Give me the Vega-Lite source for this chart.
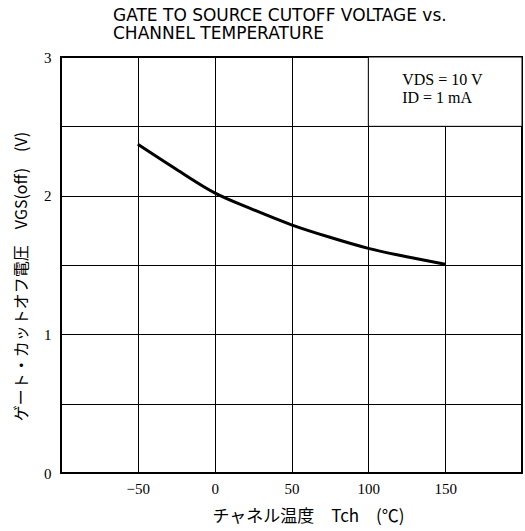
{
  "$schema": "https://vega.github.io/schema/vega-lite/v6.json",
  "width": 461,
  "height": 416,
  "autosize": {"type": "none"},
  "padding": {"left": 61, "top": 57, "right": 3, "bottom": 58},
  "background": "white",
  "title": {
    "text": ["GATE TO SOURCE CUTOFF VOLTAGE vs.", "CHANNEL TEMPERATURE"],
    "anchor": "start",
    "frame": "group",
    "dx": 52,
    "offset": 7,
    "font": "DejaVu Sans",
    "fontSize": 17,
    "fontWeight": "normal",
    "color": "black",
    "lineHeight": 18
  },
  "config": {
    "view": {"stroke": "black", "strokeWidth": 2},
    "axis": {
      "grid": true,
      "gridColor": "black",
      "gridWidth": 1,
      "gridOpacity": 1,
      "domain": false,
      "ticks": false,
      "labelFont": "Liberation Serif",
      "labelFontSize": 15,
      "labelColor": "black",
      "titleFont": "Noto Sans CJK JP",
      "titleFontSize": 14,
      "titleFontWeight": "normal",
      "titleColor": "black"
    }
  },
  "datasets": {
    "curve": [
      {"t": -50, "v": 2.37},
      {"t": -25, "v": 2.19},
      {"t": 0, "v": 2.02},
      {"t": 25, "v": 1.9},
      {"t": 50, "v": 1.79},
      {"t": 75, "v": 1.7},
      {"t": 100, "v": 1.62},
      {"t": 125, "v": 1.56},
      {"t": 150, "v": 1.505}
    ],
    "box": [
      {"t1": 100, "t2": 200, "v1": 2.5, "v2": 3}
    ],
    "notes": [
      {"t": 122, "v": 2.835, "label": "VDS = 10  V"},
      {"t": 122, "v": 2.705, "label": "ID = 1  mA"}
    ]
  },
  "layer": [
    {
      "data": {"name": "curve"},
      "mark": {"type": "line", "color": "black", "strokeWidth": 3, "interpolate": "monotone"},
      "encoding": {
        "x": {
          "field": "t",
          "type": "quantitative",
          "scale": {"domain": [-100, 200], "nice": false, "zero": false},
          "axis": {
            "values": [-50, 0, 50, 100, 150],
            "title": "チャネル温度　Tch　(℃)",
            "titleFontSize": 17,
            "titleX": 247,
            "labelExpr": "datum.value < 0 ? '−' + abs(datum.value) : datum.label",
            "labelPadding": 8,
            "titlePadding": 12
          }
        },
        "y": {
          "field": "v",
          "type": "quantitative",
          "scale": {"domain": [0, 3], "nice": false},
          "axis": {
            "values": [0, 0.5, 1, 1.5, 2, 2.5, 3],
            "labelExpr": "datum.value % 1 === 0 ? format(datum.value, 'd') : ''",
            "title": "ゲート・カットオフ電圧　VGS(off)　(V)",
            "titleFontSize": 16,
            "titleY": 219,
            "labelPadding": 10,
            "titlePadding": 14
          }
        }
      }
    },
    {
      "data": {"name": "box"},
      "mark": {"type": "rect", "fill": "white", "stroke": "black", "strokeWidth": 1},
      "encoding": {
        "x": {"field": "t1", "type": "quantitative"},
        "x2": {"field": "t2"},
        "y": {"field": "v1", "type": "quantitative"},
        "y2": {"field": "v2"}
      }
    },
    {
      "data": {"name": "notes"},
      "mark": {"type": "text", "align": "left", "baseline": "middle", "font": "Liberation Serif", "fontSize": 16, "color": "black"},
      "encoding": {
        "x": {"field": "t", "type": "quantitative"},
        "y": {"field": "v", "type": "quantitative"},
        "text": {"field": "label"}
      }
    }
  ]
}
